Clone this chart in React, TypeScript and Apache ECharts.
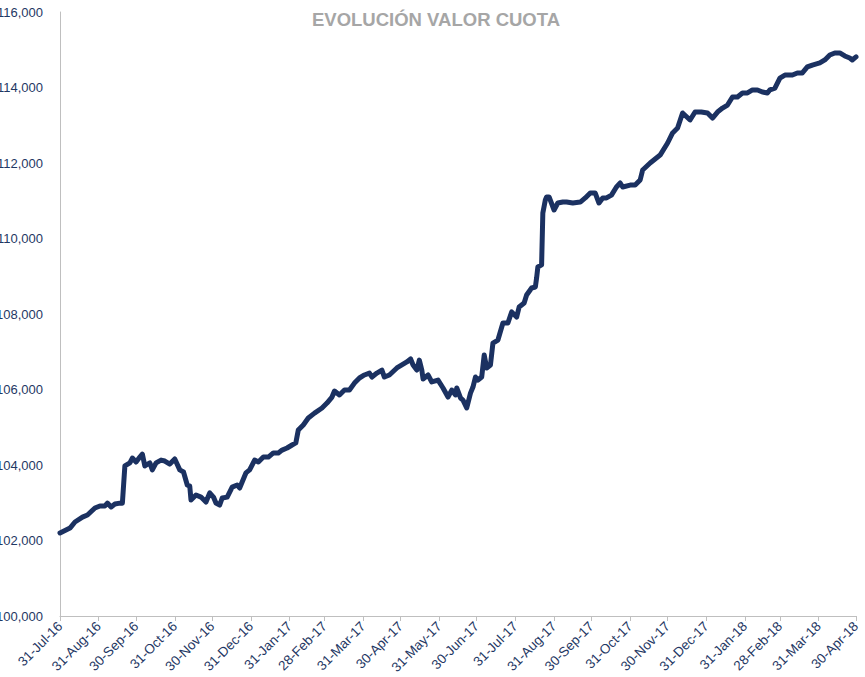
import React, { useEffect, useRef } from "react";
import * as echarts from "echarts";

const title = "EVOLUCIÓN VALOR CUOTA";

const dates: string[] = [
  "2016-07-31","2016-08-08","2016-08-12","2016-08-18","2016-08-22","2016-08-28","2016-09-01","2016-09-05","2016-09-07","2016-09-10",
  "2016-09-13","2016-09-17","2016-09-19","2016-09-21","2016-09-25","2016-09-27","2016-09-30","2016-10-03","2016-10-05","2016-10-07",
  "2016-10-11","2016-10-13","2016-10-16","2016-10-20","2016-10-23","2016-10-27","2016-10-31","2016-11-04","2016-11-07","2016-11-10",
  "2016-11-12","2016-11-13","2016-11-17","2016-11-21","2016-11-25","2016-11-28","2016-12-01","2016-12-03","2016-12-06","2016-12-08",
  "2016-12-12","2016-12-16","2016-12-20","2016-12-22","2016-12-24","2016-12-27","2016-12-30","2017-01-03","2017-01-06","2017-01-10",
  "2017-01-14","2017-01-18","2017-01-22","2017-01-25","2017-01-29","2017-02-02","2017-02-05","2017-02-07","2017-02-11","2017-02-15",
  "2017-02-20","2017-02-26","2017-03-02","2017-03-06","2017-03-08","2017-03-12","2017-03-16","2017-03-20","2017-03-24","2017-03-28",
  "2017-04-01","2017-04-05","2017-04-07","2017-04-11","2017-04-15","2017-04-17","2017-04-21","2017-04-27","2017-05-01","2017-05-05",
  "2017-05-08","2017-05-10","2017-05-13","2017-05-15","2017-05-17","2017-05-18","2017-05-22","2017-05-25","2017-05-30","2017-06-03",
  "2017-06-07","2017-06-10","2017-06-13","2017-06-14","2017-06-17","2017-06-19","2017-06-22","2017-06-25","2017-06-27","2017-06-29",
  "2017-07-01","2017-07-04","2017-07-06","2017-07-08","2017-07-11","2017-07-13","2017-07-17","2017-07-21","2017-07-25","2017-07-28",
  "2017-08-01","2017-08-03","2017-08-07","2017-08-09","2017-08-13","2017-08-16","2017-08-17","2017-08-18","2017-08-21","2017-08-22",
  "2017-08-24","2017-08-25","2017-08-27","2017-08-31","2017-09-03","2017-09-07","2017-09-10","2017-09-15","2017-09-21","2017-09-25",
  "2017-09-29","2017-10-03","2017-10-06","2017-10-09","2017-10-12","2017-10-16","2017-10-20","2017-10-23","2017-10-25","2017-10-31",
  "2017-11-04","2017-11-08","2017-11-10","2017-11-16","2017-11-24","2017-11-30","2017-12-04","2017-12-08","2017-12-12","2017-12-18",
  "2017-12-22","2017-12-27","2018-01-01","2018-01-05","2018-01-09","2018-01-13","2018-01-17","2018-01-21","2018-01-25","2018-01-29",
  "2018-02-02","2018-02-06","2018-02-10","2018-02-14","2018-02-18","2018-02-20","2018-02-24","2018-02-28","2018-03-04","2018-03-10",
  "2018-03-14","2018-03-18","2018-03-22","2018-03-26","2018-04-01","2018-04-05","2018-04-09","2018-04-13","2018-04-17","2018-04-21",
  "2018-04-25","2018-04-27","2018-04-30"
];

const values: number[] = [
  102200,102330,102490,102620,102675,102860,102915,102915,102990,102890,
  102965,102990,102990,103975,104055,104185,104080,104210,104290,103975,
  104055,103870,104055,104130,104105,104025,104160,103870,103815,103470,
  103440,103075,103205,103150,103020,103260,103150,102995,102940,103125,
  103150,103415,103470,103390,103550,103790,103870,104130,104080,104210,
  104210,104320,104320,104395,104450,104530,104585,104925,105060,105245,
  105375,105510,105640,105800,105960,105855,105985,105985,106170,106305,
  106385,106435,106330,106435,106515,106330,106385,106570,106650,106730,
  106810,106650,106515,106780,106515,106280,106385,106200,106250,106040,
  105800,105985,105855,106040,105775,105720,105510,105905,106065,106330,
  106250,106330,106915,106570,106650,107230,107310,107760,107760,108055,
  107920,108185,108290,108505,108690,108715,108955,109245,109300,110675,
  111020,111100,111100,110755,110940,110965,110965,110940,110965,111075,
  111205,111205,110940,111075,111075,111150,111365,111470,111365,111415,
  111415,111550,111815,112000,112210,112530,112795,112925,113325,113140,
  113350,113350,113325,113190,113350,113455,113535,113750,113750,113855,
  113855,113935,113935,113880,113855,113935,113985,114250,114330,114330,
  114385,114385,114545,114595,114650,114730,114860,114915,114915,114835,
  114780,114730,114810
];

const tickDates: string[] = [
  "2016-07-31","2016-08-31","2016-09-30","2016-10-31","2016-11-30","2016-12-31",
  "2017-01-31","2017-02-28","2017-03-31","2017-04-30","2017-05-31","2017-06-30",
  "2017-07-31","2017-08-31","2017-09-30","2017-10-31","2017-11-30","2017-12-31",
  "2018-01-31","2018-02-28","2018-03-31","2018-04-30"
];

const yMin = 100000;
const yMax = 116000;
const yStep = 2000;

const MONTHS = ["Jan","Feb","Mar","Apr","May","Jun","Jul","Aug","Sep","Oct","Nov","Dec"];

function toTs(s: string): number {
  const [y, m, d] = s.split("-").map(Number);
  return Date.UTC(y, m - 1, d);
}

function fmtDate(v: number): string {
  const d = new Date(v);
  const yy = String(d.getUTCFullYear() % 100).padStart(2, "0");
  return `${d.getUTCDate()}-${MONTHS[d.getUTCMonth()]}-${yy}`;
}

export default function App() {
  const ref = useRef<HTMLDivElement>(null);

  useEffect(() => {
    if (!ref.current) return;
    const chart = echarts.init(ref.current, undefined, { renderer: "svg" });
    const tickTs = tickDates.map(toTs);
    const labelColor = "#1F3864";
    const axisGray = "#BFBFBF";
    const font = "Liberation Sans, Arial, sans-serif";
    chart.setOption({
      animation: false,
      backgroundColor: "#ffffff",
      title: {
        text: title,
        left: 307,
        top: 5,
        textStyle: {
          color: "#A6A6A6",
          fontSize: 18.5,
          fontWeight: "bold",
          fontFamily: font,
        },
      },
      grid: {
        left: 60,
        right: 9,
        top: 12,
        bottom: 61,
        containLabel: false,
        outerBoundsMode: "none",
      },
      xAxis: {
        type: "value",
        min: tickTs[0],
        max: tickTs[tickTs.length - 1],
        scale: true,
        axisLine: { show: true, lineStyle: { color: axisGray, width: 1 } },
        axisTick: {
          show: true,
          length: 5,
          lineStyle: { color: axisGray },
          customValues: tickTs,
        },
        axisLabel: {
          show: true,
          rotate: 45,
          margin: 8,
          color: labelColor,
          fontSize: 13.5,
          fontFamily: font,
          customValues: tickTs,
          formatter: (v: number) => fmtDate(v),
          hideOverlap: false,
        },
        splitLine: { show: false },
        minorTick: { show: false },
      },
      yAxis: {
        type: "value",
        min: yMin,
        max: yMax,
        interval: yStep,
        axisLine: { show: true, lineStyle: { color: axisGray, width: 1 } },
        axisTick: { show: false },
        splitLine: { show: false },
        axisLabel: {
          margin: 17,
          color: labelColor,
          fontSize: 13,
          fontFamily: font,
          formatter: (v: number) => v.toLocaleString("en-US"),
        },
      },
      series: [
        {
          type: "line",
          data: dates.map((d, i) => [toTs(d), values[i]]),
          showSymbol: false,
          symbol: "none",
          lineStyle: { color: "#1B3161", width: 5, cap: "round", join: "round" },
          itemStyle: { color: "#1B3161" },
        },
      ],
    });
    return () => chart.dispose();
  }, []);

  return (
    <div
      ref={ref}
      style={{ position: "absolute", left: 0, top: 0, width: 865, height: 677 }}
    />
  );
}
